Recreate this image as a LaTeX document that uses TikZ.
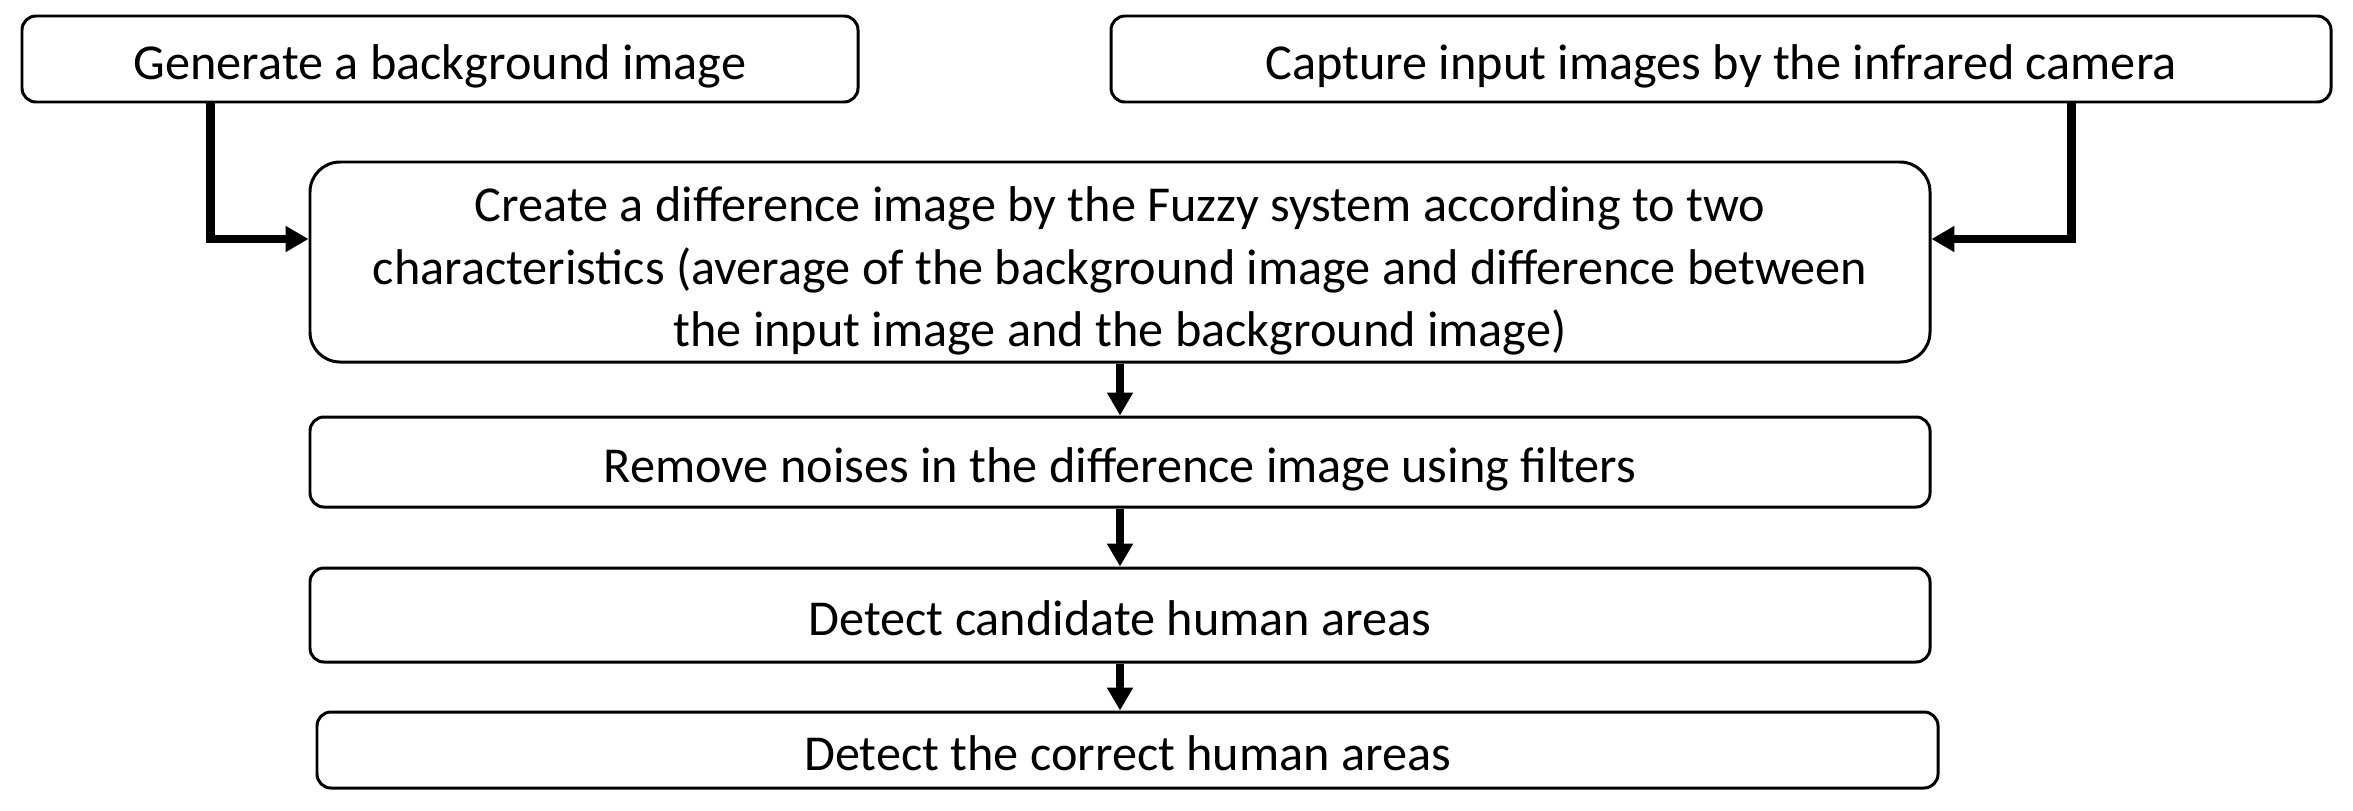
\documentclass[tikz,border=0pt]{standalone}
\usepackage{fontspec}
\setmainfont{Carlito}
\usetikzlibrary{arrows.meta,calc}

\begin{document}
\begin{tikzpicture}[
		box/.style={draw,rounded corners=#1,line width=0.85pt,align=center,inner sep=0pt,
			font=\fontsize{14.3}{17.9}\selectfont},
		box/.default=0.14cm,
		line/.style={text height=12pt,text depth=0.6pt},
		arr/.style={line width=2.3pt,-{Triangle[length=6.5pt,width=7pt]}}]
		
		\useasboundingbox (0,0) rectangle (23.53,8.10);
		
		%top row
		\node[box,line,minimum width=8.36cm,minimum height=0.86cm] (gen) at (4.40,7.51) {Generate a background image};
		\node[box,line,minimum width=12.20cm,minimum height=0.86cm] (cap) at (17.21,7.51) {Capture input images by the infrared camera};
		
		%steps
		\node[box=0.3cm,minimum width=16.20cm,minimum height=2.00cm] (diff) at (11.20,5.48)
		{\rule{0pt}{15pt}Create a difference image by the Fuzzy system according to two\\
			characteristics (average of the background image and difference between\\
			the input image and the background image)};
		\node[box,line,minimum width=16.20cm,minimum height=0.90cm] (noise) at (11.20,3.48) {Remove noises in the difference image using filters};
		\node[box,line,minimum width=16.20cm,minimum height=0.94cm] (cand) at (11.20,1.95) {Detect candidate human areas};
		\node[box,line,minimum width=16.21cm,minimum height=0.76cm] (human) at (11.275,0.60) {Detect the correct human areas};
		
		%arrows
		\draw[arr] ([xshift=1.90cm]gen.south west) |- ([yshift=0.23cm]diff.west);
		\draw[arr] ([xshift=-2.61cm]cap.south east) |- ([yshift=0.23cm]diff.east);
		\draw[arr] (diff.south) -- (noise.north);
		\draw[arr] (noise.south) -- (cand.north);
		\draw[arr] (cand.south) -- (cand.south |- human.north);
		
\end{tikzpicture}
\end{document}
